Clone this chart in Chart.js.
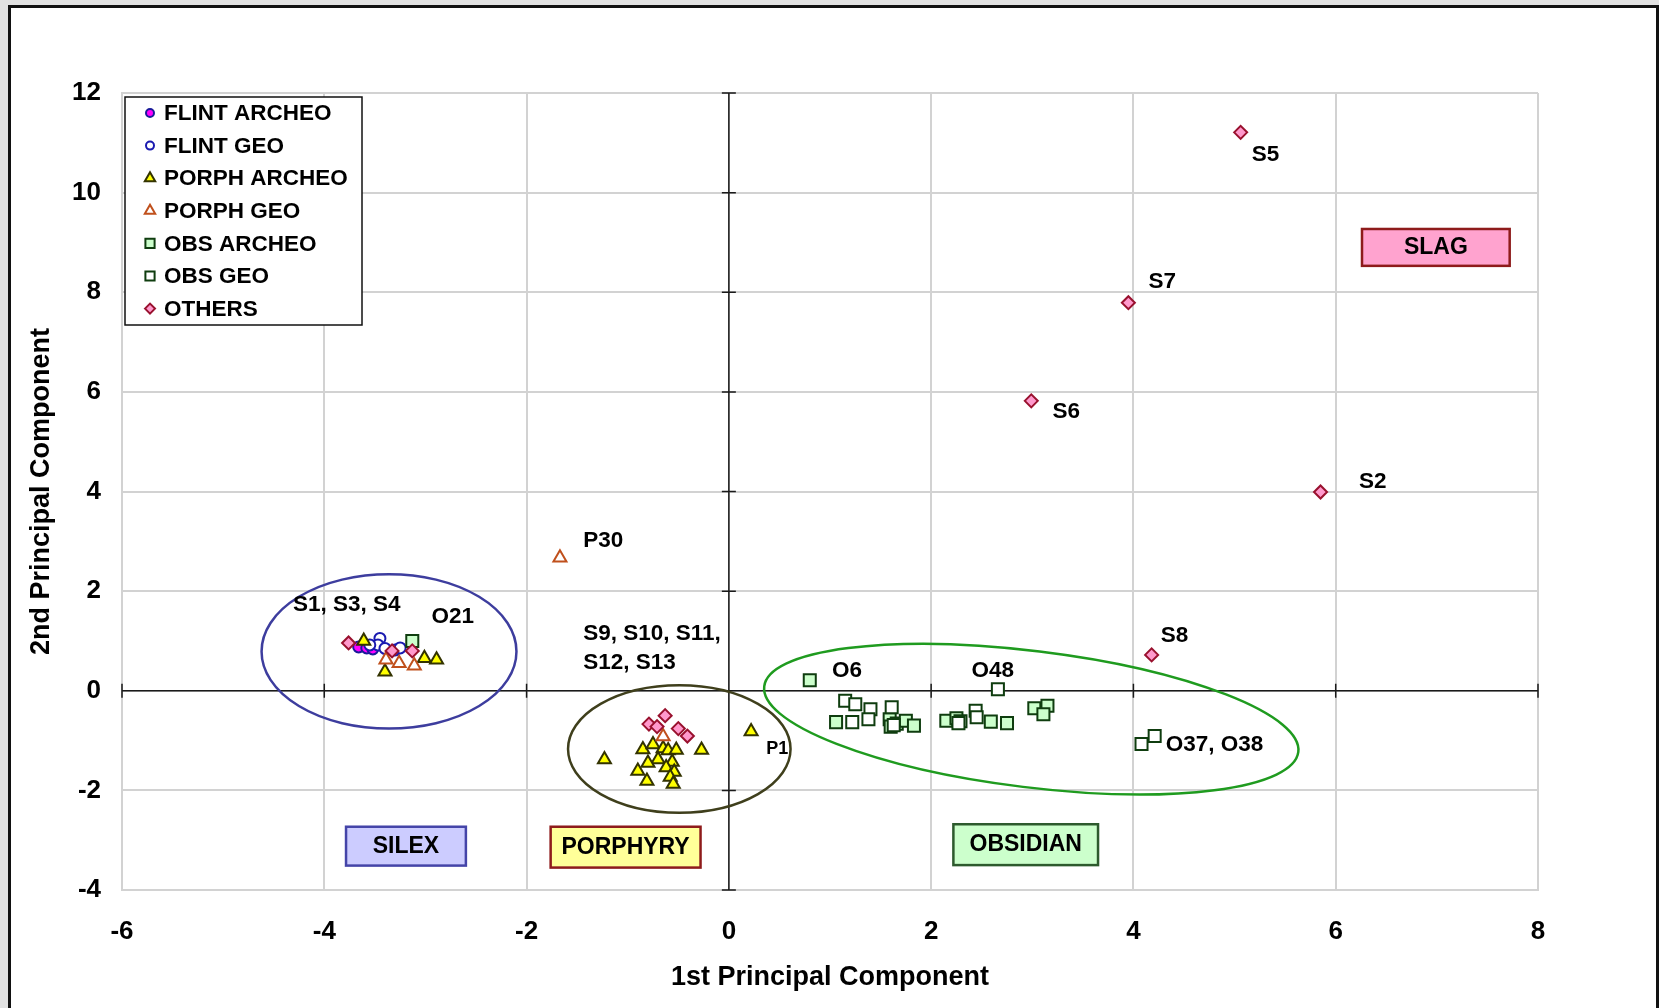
<!DOCTYPE html>
<html>
<head>
<meta charset="utf-8">
<title>Principal Component Analysis</title>
<script src="https://cdn.jsdelivr.net/npm/chart.js@4.4.1/dist/chart.umd.min.js"></script>
<style>
    html, body { margin: 0; padding: 0; background: #e1e1e1; overflow: hidden; }
    #frame {
        position: absolute; left: 8px; top: 5px; width: 1651px; height: 1100px;
        background: #fff; border: 3px solid #111; box-sizing: border-box;
    }
    #pcaChart { position: absolute; left: 0; top: 0; }
</style>
</head>
<body>
<div id="frame"></div>
<canvas id="pcaChart" width="1659" height="1008"></canvas>
<script>
// Scores on the first two principal components, [PC1, PC2]
const flintArcheo = [[-3.66, 0.88], [-3.58, 0.86], [-3.52, 0.84]];
const flintGeo = [[-3.45, 1.05], [-3.47, 0.92], [-3.40, 0.85], [-3.30, 0.82], [-3.25, 0.86], [-3.55, 0.92]];
const porphArcheo = [
    [-3.61, 1.00], [-3.01, 0.65], [-2.89, 0.62], [-3.40, 0.38],
    [-1.23, -1.38], [-0.27, -1.19], [-0.85, -1.18], [-0.75, -1.08], [-0.65, -1.16], [-0.60, -1.20],
    [-0.52, -1.19], [-0.70, -1.38], [-0.80, -1.45], [-0.56, -1.43], [-0.62, -1.54], [-0.90, -1.61],
    [-0.54, -1.63], [-0.58, -1.73], [-0.81, -1.81], [-0.55, -1.87], [0.22, -0.82]
];
const porphGeo = [[-3.39, 0.62], [-3.26, 0.55], [-3.11, 0.50], [-1.67, 2.67], [-0.65, -0.92]];
const obsArcheo = [
    [-3.13, 1.00], [0.80, 0.21], [1.06, -0.63], [1.59, -0.57], [1.60, -0.72], [1.66, -0.66],
    [1.75, -0.60], [1.83, -0.70], [2.15, -0.60], [2.25, -0.55], [2.59, -0.62], [2.75, -0.65],
    [3.02, -0.35], [3.15, -0.30], [3.11, -0.47]
];
const obsGeo = [
    [1.15, -0.20], [1.25, -0.27], [1.40, -0.37], [1.22, -0.63], [1.38, -0.57], [1.61, -0.33],
    [1.63, -0.69], [2.29, -0.61], [2.27, -0.65], [2.44, -0.40], [2.45, -0.53], [2.66, 0.03],
    [4.08, -1.07], [4.21, -0.91]
];
const others = [
    [-3.76, 0.96], [-3.33, 0.80], [-3.13, 0.80], [-0.63, -0.50], [-0.79, -0.67], [-0.71, -0.72],
    [-0.50, -0.76], [-0.41, -0.91], [5.06, 11.21], [3.95, 7.79], [2.99, 5.82], [5.85, 3.99], [4.18, 0.72]
];

const xRange = [-6, 8];
const yRange = [-4, 12];

const FONT = "'Liberation Sans', Arial, sans-serif";

const series = [
    { label: 'FLINT ARCHEO', data: flintArcheo, style: 'circle', r: 5.5, fill: '#ff00ff', line: '#1a1a9a' },
    { label: 'FLINT GEO', data: flintGeo, style: 'circle', r: 5.5, fill: '#ffffff', line: '#1a1ab0' },
    { label: 'PORPH ARCHEO', data: porphArcheo, style: 'triangle', r: 7.5, fill: '#ffff00', line: '#333300' },
    { label: 'PORPH GEO', data: porphGeo, style: 'triangle', r: 7.5, fill: '#ffffff', line: '#c0501c' },
    { label: 'OBS ARCHEO', data: obsArcheo, style: 'rect', r: 8.5, fill: '#ccffcc', line: '#0f3d0f' },
    { label: 'OBS GEO', data: obsGeo, style: 'rect', r: 8.5, fill: '#ffffff', line: '#0f3d0f' },
    { label: 'OTHERS', data: others, style: 'rectRot', r: 6.5, fill: '#ff99cc', line: '#99112e' }
];

// sample names written next to points, anchored at the left end of the text
const pointNotes = [
    { text: 'S5', x: 5.17, y: 10.75 },
    { text: 'S7', x: 4.15, y: 8.20 },
    { text: 'S6', x: 3.20, y: 5.60 },
    { text: 'S2', x: 6.23, y: 4.20 },
    { text: 'S8', x: 4.27, y: 1.10 },
    { text: 'P30', x: -1.44, y: 3.01 },
    { text: 'S1, S3, S4', x: -4.31, y: 1.72 },
    { text: 'O21', x: -2.94, y: 1.48 },
    { text: 'S9, S10, S11,', x: -1.44, y: 1.14 },
    { text: 'S12, S13', x: -1.44, y: 0.57 },
    { text: 'P1', x: 0.37, y: -1.17, size: 18 },
    { text: 'O6', x: 1.02, y: 0.40 },
    { text: 'O48', x: 2.40, y: 0.40 },
    { text: 'O37, O38', x: 4.32, y: -1.09 }
];

// material groups: ellipse centre and half-axes in data units, tilt in degrees
const groupEllipses = [
    { cx: -3.36, cy: 0.79, rx: 1.26, ry: 1.55, tilt: 0, color: '#3d3d9e' },
    { cx: -0.49, cy: -1.17, rx: 1.10, ry: 1.28, tilt: 0, color: '#3f3f1c' },
    { cx: 2.99, cy: -0.57, rx: 2.66, ry: 1.37, tilt: 7.0, color: '#1f9b1f' }
];

const groupTags = [
    { text: 'SLAG', x0: 6.26, x1: 7.72, y0: 9.27, y1: 8.53, fill: '#ffa3cf', line: '#8e1b1b' },
    { text: 'SILEX', x0: -3.785, x1: -2.60, y0: -2.73, y1: -3.51, fill: '#ccccff', line: '#4444a8' },
    { text: 'PORPHYRY', x0: -1.762, x1: -0.28, y0: -2.73, y1: -3.55, fill: '#ffff99', line: '#8e1b1b' },
    { text: 'OBSIDIAN', x0: 2.22, x1: 3.65, y0: -2.68, y1: -3.50, fill: '#ccffcc', line: '#2d5a2d' }
];

const overlayPlugin = {
    id: 'pcaOverlay',
    beforeDatasetsDraw(chart) {
        const ctx = chart.ctx;
        const xs = chart.scales.x, ys = chart.scales.y;
        const area = chart.chartArea;
        const ux = Math.abs(xs.getPixelForValue(1) - xs.getPixelForValue(0));
        const uy = Math.abs(ys.getPixelForValue(1) - ys.getPixelForValue(0));
        ctx.save();

        // axes crossing at the origin, with cross tick marks
        const x0 = xs.getPixelForValue(0), y0 = ys.getPixelForValue(0);
        ctx.strokeStyle = '#1a1a1a';
        ctx.lineWidth = 1.5;
        ctx.beginPath();
        ctx.moveTo(area.left, y0); ctx.lineTo(area.right, y0);
        ctx.moveTo(x0, area.top); ctx.lineTo(x0, area.bottom);
        xs.ticks.forEach(function (t) {
            const px = xs.getPixelForValue(t.value);
            ctx.moveTo(px, y0 - 7); ctx.lineTo(px, y0 + 7);
        });
        ys.ticks.forEach(function (t) {
            const py = ys.getPixelForValue(t.value);
            ctx.moveTo(x0 - 7, py); ctx.lineTo(x0 + 7, py);
        });
        ctx.stroke();

        ctx.lineWidth = 2.5;
        groupEllipses.forEach(function (e) {
            ctx.strokeStyle = e.color;
            ctx.beginPath();
            ctx.ellipse(xs.getPixelForValue(e.cx), ys.getPixelForValue(e.cy),
                e.rx * ux, e.ry * uy, e.tilt * Math.PI / 180, 0, Math.PI * 2);
            ctx.stroke();
        });
        ctx.restore();
    },
    afterDatasetsDraw(chart) {
        const ctx = chart.ctx;
        const xs = chart.scales.x, ys = chart.scales.y;
        const area = chart.chartArea;
        ctx.save();

        ctx.fillStyle = '#000';
        ctx.textAlign = 'left';
        ctx.textBaseline = 'middle';
        pointNotes.forEach(function (n) {
            ctx.font = 'bold ' + (n.size || 22.5) + 'px ' + FONT;
            ctx.fillText(n.text, xs.getPixelForValue(n.x), ys.getPixelForValue(n.y));
        });

        groupTags.forEach(function (b) {
            const l = xs.getPixelForValue(b.x0), r = xs.getPixelForValue(b.x1);
            const t = ys.getPixelForValue(b.y0), btm = ys.getPixelForValue(b.y1);
            ctx.fillStyle = b.fill;
            ctx.fillRect(l, t, r - l, btm - t);
            ctx.strokeStyle = b.line;
            ctx.lineWidth = 2.5;
            ctx.strokeRect(l, t, r - l, btm - t);
            ctx.fillStyle = '#000';
            ctx.font = 'bold 23px ' + FONT;
            ctx.textAlign = 'center';
            ctx.fillText(b.text, (l + r) / 2, (t + btm) / 2);
        });

        // legend box in the upper left corner of the plot
        const lx = area.left + 3, ly = area.top + 4, lw = 237, lh = 228;
        ctx.fillStyle = '#fff';
        ctx.fillRect(lx, ly, lw, lh);
        ctx.strokeStyle = '#111';
        ctx.lineWidth = 1.5;
        ctx.strokeRect(lx, ly, lw, lh);
        ctx.font = 'bold 22.5px ' + FONT;
        ctx.textAlign = 'left';
        series.forEach(function (s, i) {
            const cy = ly + 16 + i * 32.6;
            ctx.fillStyle = s.fill;
            ctx.strokeStyle = s.line;
            ctx.lineWidth = 2;
            Chart.helpers.drawPoint(ctx, { pointStyle: s.style, radius: s.style === 'rect' ? 6.5 : s.r - 1.5, rotation: 0, borderWidth: 2 }, lx + 25, cy);
            ctx.fillStyle = '#000';
            ctx.fillText(s.label, lx + 39, cy + 1);
        });
        ctx.restore();
    }
};

const gridStyle = { color: '#d2d2d2', lineWidth: 2, drawTicks: false };

new Chart(document.getElementById('pcaChart'), {
    type: 'scatter',
    data: {
        datasets: series.map(function (s, i) {
            return {
                label: s.label,
                data: s.data.map(function (p) { return { x: p[0], y: p[1] }; }),
                pointStyle: s.style,
                pointRadius: s.r,
                pointHoverRadius: s.r,
                backgroundColor: s.fill,
                borderColor: s.line,
                borderWidth: 2,
                order: series.length - i
            };
        })
    },
    options: {
        responsive: false,
        animation: false,
        events: [],
        layout: { padding: { top: 93, right: 121, bottom: 0, left: 0 } },
        plugins: {
            legend: { display: false },
            tooltip: { enabled: false }
        },
        scales: {
            x: {
                type: 'linear',
                min: xRange[0], max: xRange[1],
                ticks: { stepSize: 2, padding: 26, color: '#000', font: { family: FONT, size: 26, weight: 'bold' } },
                grid: gridStyle,
                border: { color: '#d2d2d2', width: 2 },
                title: {
                    display: true, text: '1st Principal Component', color: '#000',
                    font: { family: FONT, size: 27, weight: 'bold' }, padding: { top: 0, bottom: 14 }
                },
                afterFit: function (scale) { scale.height = 118; }
            },
            y: {
                type: 'linear',
                min: yRange[0], max: yRange[1],
                ticks: { stepSize: 2, padding: 21, color: '#000', font: { family: FONT, size: 26, weight: 'bold' } },
                grid: gridStyle,
                border: { color: '#d2d2d2', width: 2 },
                title: {
                    display: true, text: '2nd Principal Component', color: '#000',
                    font: { family: FONT, size: 27, weight: 'bold' }, padding: { top: 25, bottom: 0 }
                },
                afterFit: function (scale) { scale.width = 122; }
            }
        }
    },
    plugins: [overlayPlugin]
});
</script>
</body>
</html>
